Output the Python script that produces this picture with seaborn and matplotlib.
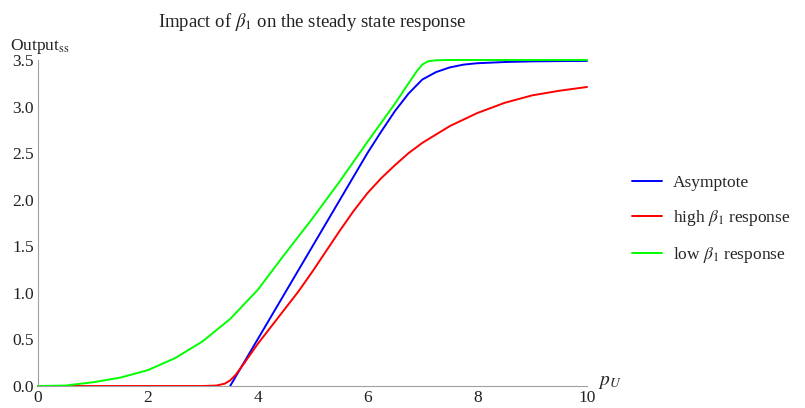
import numpy as np
import pandas as pd
import seaborn as sns
import matplotlib.pyplot as plt
from matplotlib.ticker import MultipleLocator

# Values.
asym_x = [3.5, 4.0, 4.5, 5.0, 5.5, 6.0, 6.25, 6.5, 6.75, 7.0, 7.25, 7.5, 7.75, 8.0, 8.5, 9.0, 9.5, 10.0]
asym_y = [0.0, 0.5, 1.0, 1.5, 2.0, 2.5, 2.73, 2.95, 3.14, 3.29, 3.37, 3.42, 3.45, 3.465, 3.478, 3.485, 3.488, 3.49]

high_x = [0.0, 1.0, 2.0, 3.0, 3.25, 3.4, 3.5, 3.6, 3.75, 4.0, 4.25, 4.5, 4.75, 5.0, 5.25, 5.5, 5.75,
          6.0, 6.25, 6.5, 6.75, 7.0, 7.5, 8.0, 8.5, 9.0, 9.5, 10.0]
high_y = [0.0, 0.0, 0.0, 0.0, 0.005, 0.025, 0.06, 0.12, 0.24, 0.45, 0.64, 0.83, 1.02, 1.23, 1.45, 1.67, 1.88,
          2.07, 2.23, 2.37, 2.5, 2.61, 2.79, 2.93, 3.04, 3.12, 3.17, 3.21]

low_x = [0.0, 0.5, 1.0, 1.5, 2.0, 2.5, 3.0, 3.5, 4.0, 4.5, 5.0, 5.5, 6.0, 6.5, 6.75, 6.9, 7.0, 7.1,
         7.25, 7.5, 8.0, 9.0, 10.0]
low_y = [0.0, 0.005, 0.04, 0.09, 0.17, 0.3, 0.48, 0.72, 1.03, 1.42, 1.8, 2.2, 2.62, 3.03, 3.25, 3.38, 3.45, 3.485,
         3.497, 3.5, 3.5, 3.5, 3.5]

series = [
    ("Asymptote", asym_x, asym_y, "#0000ff"),
    (r"high $\beta_1$ response", high_x, high_y, "#ff0000"),
    (r"low $\beta_1$ response", low_x, low_y, "#00ff00"),
]

sns.set_theme(style="white")
plt.rcParams["font.family"] = ["Liberation Serif", "DejaVu Serif"]
plt.rcParams["mathtext.fontset"] = "stix"

fig = plt.figure(figsize=(8.05, 4.08), dpi=100)
ax = fig.add_axes([0.0472, 0.0539, 0.6820, 0.7991])

for name, xs, ys, col in series:
    df = pd.DataFrame({"x": xs, "y": ys})
    sns.lineplot(data=df, x="x", y="y", ax=ax, color=col, lw=1.4, label=name, sort=False)
for line in ax.lines:
    line.set_clip_on(False)

ax.set_xlim(0, 10)
ax.set_ylim(0, 3.5)
ax.xaxis.set_minor_locator(MultipleLocator(0.5))
ax.yaxis.set_minor_locator(MultipleLocator(0.1))
ax.set_xticks([0, 2, 4, 6, 8, 10])
ax.set_xticklabels(["0", "2", "4", "6", "8", "10"])
ax.set_yticks([0, 0.5, 1.0, 1.5, 2.0, 2.5, 3.0, 3.5])
ax.set_yticklabels(["0.0", "0.5", "1.0", "1.5", "2.0", "2.5", "3.0", "3.5"])

gray = "#a0a0a0"
for s in ["top", "right"]:
    ax.spines[s].set_visible(False)
for s in ["left", "bottom"]:
    ax.spines[s].set_color(gray)
    ax.spines[s].set_linewidth(0.8)
ax.tick_params(which="both", direction="in", color=gray, labelsize=12.5, labelcolor="#222222")
ax.tick_params(which="major", length=4, width=0.7, pad=3)
ax.tick_params(which="minor", length=2.2, width=0.6)
ax.set_xlabel("")
ax.set_ylabel("")

fig.text(0.012, 0.887, r"Output$_{\mathrm{ss}}$", fontsize=12.5, color="#222222", ha="left", va="center")
fig.text(0.743, 0.062, r"$p_U$", fontsize=14, color="#222222", ha="left", va="center")
fig.text(0.388, 0.946, r"Impact of $\beta_1$ on the steady state response", fontsize=13.5,
         color="#222222", ha="center", va="center")

ax.legend(loc="center left", bbox_to_anchor=(0.785, 0.461), bbox_transform=fig.transFigure,
          frameon=False, fontsize=12.5, handlelength=1.75, handletextpad=0.6, labelspacing=1.0,
          borderpad=0, borderaxespad=0)

plt.savefig("out.png", dpi=100)
